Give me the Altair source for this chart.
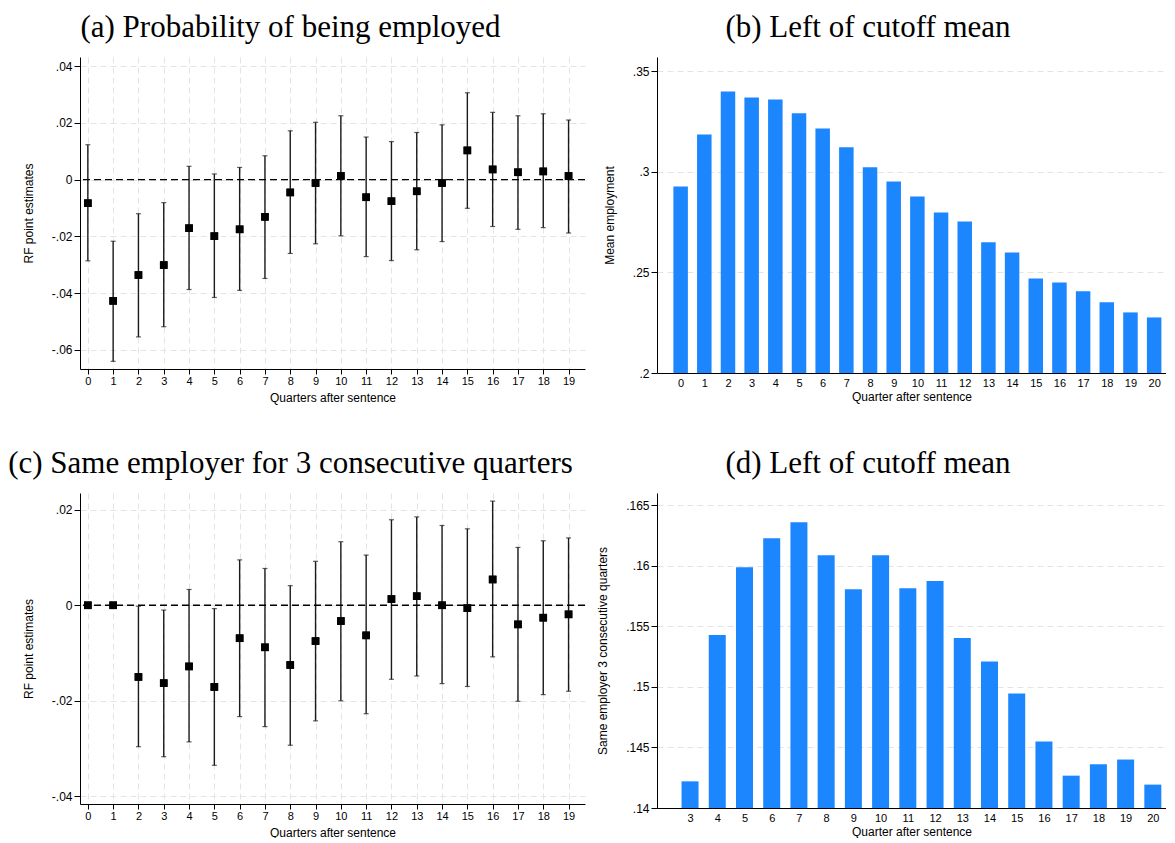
import altair as alt
import pandas as pd

# ---------------- data ----------------
# (a) Probability of being employed: RF point estimates with CI
qa = list(range(20))
est_a = [-0.0083, -0.0427, -0.0336, -0.0301, -0.0171, -0.0199, -0.0175, -0.0131, -0.0045, -0.0012,
         0.0013, -0.0062, -0.0076, -0.0041, -0.0012, 0.0103, 0.0036, 0.0026, 0.0029, 0.0013]
hi_a = [0.0123, -0.0217, -0.0120, -0.0081, 0.0047, 0.0020, 0.0043, 0.0084, 0.0172, 0.0202,
        0.0225, 0.0150, 0.0134, 0.0166, 0.0193, 0.0306, 0.0237, 0.0225, 0.0232, 0.0210]
lo_a = [-0.0286, -0.0640, -0.0554, -0.0518, -0.0387, -0.0415, -0.0390, -0.0348, -0.0260, -0.0226,
        -0.0198, -0.0271, -0.0285, -0.0247, -0.0218, -0.0101, -0.0165, -0.0175, -0.0169, -0.0188]

# (b) Left of cutoff mean: mean employment
qb = list(range(21))
mean_b = [0.2927, 0.3185, 0.3399, 0.3369, 0.3359, 0.3290, 0.3215, 0.3121, 0.3022, 0.2952, 0.2877,
          0.2798, 0.2753, 0.2649, 0.2599, 0.2470, 0.2450, 0.2406, 0.2351, 0.2301, 0.2276]

# (c) Same employer for 3 consecutive quarters: RF point estimates with CI
qc = list(range(20))
est_c = [0.0, 0.0, -0.0150, -0.0163, -0.0128, -0.0171, -0.0069, -0.0088, -0.0125, -0.0075,
         -0.0033, -0.0063, 0.0013, 0.0019, 0.0000, -0.0006, 0.0054, -0.0040, -0.0026, -0.0019]
hi_c = [None, None, -0.0002, -0.0010, 0.0033, -0.0007, 0.0095, 0.0077, 0.0041, 0.0092,
        0.0133, 0.0105, 0.0179, 0.0185, 0.0167, 0.0160, 0.0218, 0.0121, 0.0135, 0.0141]
lo_c = [None, None, -0.0296, -0.0317, -0.0286, -0.0335, -0.0233, -0.0254, -0.0293, -0.0242,
        -0.0200, -0.0227, -0.0155, -0.0148, -0.0164, -0.0170, -0.0108, -0.0201, -0.0187, -0.0180]

# (d) Left of cutoff mean: same employer 3 consecutive quarters
qd = list(range(3, 21))
mean_d = [0.1422, 0.15428, 0.15987, 0.16227, 0.16359, 0.16087, 0.15805, 0.16087, 0.15814, 0.15874,
          0.15403, 0.1521, 0.14945, 0.14549, 0.14267, 0.14361, 0.1440, 0.14193]

yticks_a = [-0.06, -0.04, -0.02, 0.0, 0.02, 0.04]
yticks_b = [0.2, 0.25, 0.3, 0.35]
yticks_c = [-0.04, -0.02, 0.0, 0.02]
yticks_d = [0.14, 0.145, 0.15, 0.155, 0.16, 0.165]
zero = [0.0]

titles = ["(a) Probability of being employed", "(b) Left of cutoff mean",
          "(c) Same employer for 3 consecutive quarters", "(d) Left of cutoff mean"]

# ---------------- styling ----------------
BLUE = "#1c86ff"
SANS = "Liberation Sans"
SERIF = "Liberation Serif"
LBL = "(datum.value < 0 ? '-' : '') + replace(format(abs(datum.value), '.3~f'), '0.', '.')"
YAX = dict(grid=True, labelExpr=LBL, tickSize=6, labelPadding=2, titlePadding=16,
           labelFontSize=12)


def ptitle(text, dx=0):
    return alt.TitleParams(text=text, font=SERIF, fontSize=31, fontWeight="normal",
                           color="black", anchor="middle", frame="group", offset=13, dx=dx)


def coef_panel(q, est, lo, hi, xdom, ydom, yvals, ytitle, title, dx, h):
    df = pd.DataFrame({"q": q, "est": est, "lo": lo, "hi": hi})
    ci = df.dropna()
    xaxis = alt.Axis(values=q, title="Quarters after sentence", grid=True, labelFlush=False,
                     labelOverlap=False, format="d", tickSize=5, labelPadding=1,
                     titlePadding=6, labelFontSize=11)
    yaxis = alt.Axis(values=yvals, title=ytitle, **YAX)
    xs = alt.Scale(domain=xdom, nice=False, zero=False)
    ys = alt.Scale(domain=ydom, nice=False, zero=False)
    X = alt.X("q:Q", scale=xs, axis=xaxis)
    zl = alt.Chart(pd.DataFrame({"z": zero})).mark_rule(
        color="black", strokeDash=[7, 4], strokeWidth=1.3).encode(
        y=alt.Y("z:Q", scale=ys, axis=yaxis))
    rules = alt.Chart(ci).mark_rule(color="#1a1a1a", strokeWidth=1.4).encode(
        x=X, y=alt.Y("lo:Q", scale=ys, axis=yaxis), y2="hi:Q")
    cap_hi = alt.Chart(ci).mark_tick(color="#1a1a1a", orient="horizontal", size=5,
                                     thickness=1.2).encode(
        x=X, y=alt.Y("hi:Q", scale=ys, axis=yaxis))
    cap_lo = alt.Chart(ci).mark_tick(color="#1a1a1a", orient="horizontal", size=5,
                                     thickness=1.2).encode(
        x=X, y=alt.Y("lo:Q", scale=ys, axis=yaxis))
    pts = alt.Chart(df).mark_square(color="black", size=58, opacity=1).encode(
        x=X, y=alt.Y("est:Q", scale=ys, axis=yaxis))
    return alt.layer(pts, rules, cap_hi, cap_lo, zl, pts).properties(
        width=505, height=h, title=ptitle(title, dx))


def bar_panel(q, vals, base_val, xdom, ydom, yvals, ytitle, title, w, h, size, dx):
    df = pd.DataFrame({"q": q, "v": vals, "b": [base_val] * len(q)})
    return alt.Chart(df).mark_bar(color=BLUE, size=size).encode(
        x=alt.X("q:Q", scale=alt.Scale(domain=xdom, nice=False, zero=False),
                axis=alt.Axis(values=q, title="Quarter after sentence", grid=False,
                              labelFlush=False, labelOverlap=False, format="d",
                              ticks=False, tickSize=0, labelPadding=4, titlePadding=3,
                              labelFontSize=11)),
        y=alt.Y("v:Q", scale=alt.Scale(domain=ydom, nice=False, zero=False),
                axis=alt.Axis(values=yvals, title=ytitle, **YAX)),
        y2="b:Q",
    ).properties(width=w, height=h, title=ptitle(title, dx))


pa = coef_panel(qa, est_a, lo_a, hi_a, [-0.31, 19.65], [-0.0667, 0.0432], yticks_a,
                "RF point estimates", titles[0], -42, 312)
pb = bar_panel(qb, mean_b, 0.2, [-0.787, 20.29], [0.2, 0.357], yticks_b, "Mean employment",
               titles[1], 509, 316, 14.5, -43.5)
pc = coef_panel(qc, est_c, lo_c, hi_c, [-0.31, 19.65], [-0.0416, 0.0235], yticks_c,
                "RF point estimates", titles[2], -42, 311)
pd_ = bar_panel(qd, mean_d, 0.14, [1.97, 20.30], [0.14, 0.166], yticks_d,
                "Same employer 3 consecutive quarters", titles[3], 509, 315, 17, -43.5)

chart = alt.concat(
    pa, pb, pc, pd_, columns=2, spacing={"row": 120, "column": 72}, bounds="flush",
).properties(
    padding={"left": 0, "top": 4, "right": 0, "bottom": 0}, background="white"
).configure_view(stroke=None).configure_axis(
    domainColor="black", domainWidth=1, tickColor="black", tickWidth=1,
    gridColor="#e4e4e4", gridDash=[6, 4], gridWidth=1,
    labelFont=SANS, labelColor="black",
    titleFont=SANS, titleFontSize=12, titleFontWeight="normal", titleColor="black",
).configure_axisX(labelOverlap=False)

chart.save("out.html", embed_options={"renderer": "svg", "actions": False})
